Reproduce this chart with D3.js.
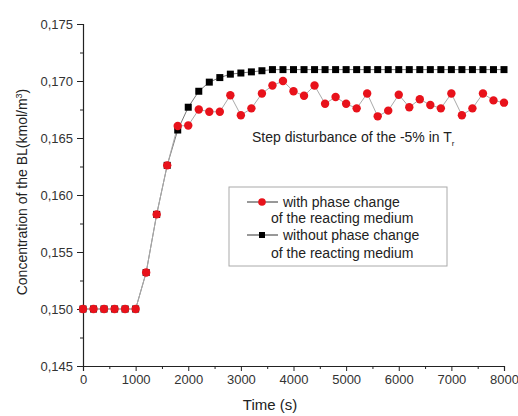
<!DOCTYPE html>
<html><head><meta charset="utf-8">
<script src="https://cdn.jsdelivr.net/npm/d3@7"></script>
<style>body{margin:0;background:#fff}svg{font-family:"Liberation Sans",Arial,sans-serif}</style>
</head><body><svg id="c" width="518" height="416"></svg>
<script>
const times = d3.range(0, 8001, 200);
const withPhase = [0.1500,0.1500,0.1500,0.1500,0.1500,0.1500,0.1532,0.1583,0.1626,0.16605,
  0.1661,0.1675,0.1673,0.1673,0.16875,0.1670,0.1676,0.1689,0.1696,0.1700,
  0.1691,0.1687,0.1696,0.1680,0.1686,0.1680,0.1676,0.1689,0.1669,0.1674,
  0.1688,0.1677,0.1684,0.1679,0.1676,0.1689,0.1670,0.1676,0.1689,0.1683,0.1681];
const withoutPhase = [0.1500,0.1500,0.1500,0.1500,0.1500,0.1500,0.1532,0.1583,0.1626,0.1657,
  0.1677,0.1691,0.1699,0.1703,0.1706,0.1707,0.1708,0.1709,0.1710,0.1710,
  0.1710,0.1710,0.1710,0.1710,0.1710,0.1710,0.1710,0.1710,0.1710,0.1710,
  0.1710,0.1710,0.1710,0.1710,0.1710,0.1710,0.1710,0.1710,0.1710,0.1710,0.1710];
const xTicks = [0,1000,2000,3000,4000,5000,6000,7000,8000];
const yTicks = [0.145,0.150,0.155,0.160,0.165,0.170,0.175];
const legendLabels = [["with phase change","of the reacting medium"],["without phase change","of the reacting medium"]];

const svg = d3.select("#c");
const x = d3.scaleLinear().domain([0,8000]).range([83,504]);
const y = d3.scaleLinear().domain([0.145,0.175]).range([366,24]);
const fmt = v => d3.format(".3f")(v).replace(".", ",");

// axes
svg.append("g").attr("transform","translate(0,366)")
  .call(d3.axisBottom(x).tickValues(xTicks).tickSize(5).tickPadding(4).tickFormat(d3.format("d")));
svg.append("g").attr("transform","translate(0,366)")
  .call(d3.axisBottom(x).tickValues(d3.range(500,8000,1000)).tickSize(3).tickFormat(""))
  .select(".domain").remove();
svg.append("g").attr("transform","translate(83,0)")
  .call(d3.axisLeft(y).tickValues(yTicks).tickSize(6).tickPadding(4).tickFormat(fmt));
svg.append("g").attr("transform","translate(83,0)")
  .call(d3.axisLeft(y).tickValues(d3.range(0.1475,0.175,0.005)).tickSize(3).tickFormat(""))
  .select(".domain").remove();
svg.selectAll(".domain").attr("stroke","#222").attr("stroke-width",1.2);
svg.selectAll(".tick line").attr("stroke","#222");
svg.selectAll(".tick text").attr("font-size",13).attr("fill","#333").attr("font-family","Liberation Sans, Arial, sans-serif");

// lines
const line = d3.line().x((d,i)=>x(times[i])).y(d=>y(d));
svg.append("path").datum(withoutPhase).attr("d",line).attr("fill","none").attr("stroke","#777").attr("stroke-width",1);
svg.append("path").datum(withPhase).attr("d",line).attr("fill","none").attr("stroke","#aaa").attr("stroke-width",1);

// markers
svg.append("g").selectAll("rect").data(withoutPhase).join("rect")
  .attr("x",(d,i)=>x(times[i])-3.5).attr("y",d=>y(d)-3.5).attr("width",7).attr("height",7).attr("fill","#000");
svg.append("g").selectAll("circle").data(withPhase).join("circle")
  .attr("cx",(d,i)=>x(times[i])).attr("cy",d=>y(d)).attr("r",4.2).attr("fill","#e8121b");

// axis labels
svg.append("text").attr("x",270).attr("y",410).attr("text-anchor","middle").attr("font-size",15).attr("fill","#222").text("Time (s)");
const yl = svg.append("text").attr("transform","translate(27,192) rotate(-90)").attr("text-anchor","middle").attr("font-size",14).attr("fill","#222");
yl.append("tspan").text("Concentration of the BL(kmol/m");
yl.append("tspan").attr("dy",-5).attr("font-size",9).text("3");
yl.append("tspan").attr("dy",5).text(")");

// annotation
const an = svg.append("text").attr("x",252).attr("y",142).attr("font-size",14).attr("fill","#222");
an.append("tspan").text("Step disturbance of the -5% in T");
an.append("tspan").attr("dy",4).attr("font-size",8).text("r");

// legend
svg.append("rect").attr("x",229).attr("y",187).attr("width",218).attr("height",79).attr("fill","#fff").attr("stroke","#aaa").attr("stroke-width",1);
const lg = [[202,218],[235,253]];
legendLabels.forEach((lab,i)=>{
  const yy = lg[i][0];
  svg.append("line").attr("x1",247).attr("x2",278).attr("y1",yy).attr("y2",yy).attr("stroke","#333").attr("stroke-width",1);
  if(i===0) svg.append("circle").attr("cx",262).attr("cy",yy).attr("r",3.8).attr("fill","#e8121b");
  else svg.append("rect").attr("x",259).attr("y",yy-3).attr("width",6).attr("height",6).attr("fill","#000");
  svg.append("text").attr("x",283).attr("y",yy+5).attr("font-size",14).attr("fill","#222").text(lab[0]);
  svg.append("text").attr("x",271).attr("y",lg[i][1]+5).attr("font-size",14).attr("fill","#222").text(lab[1]);
});
</script></body></html>
